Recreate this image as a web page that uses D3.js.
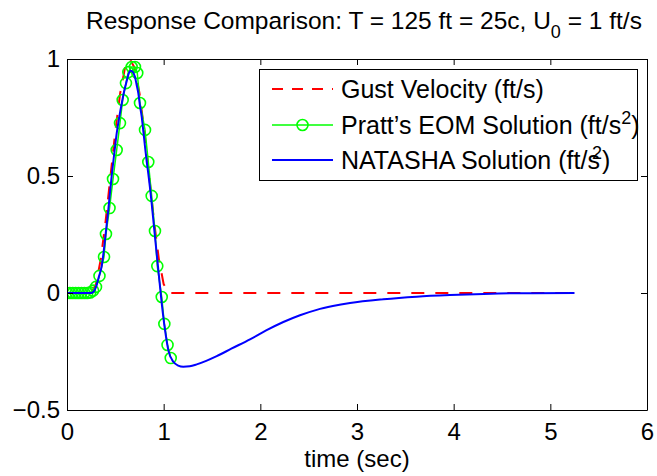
<!DOCTYPE html>
<html>
<head>
<meta charset="utf-8">
<script src="https://cdn.jsdelivr.net/npm/d3@7"></script>
<style>
  html, body { margin: 0; padding: 0; background: #fff; }
  svg { display: block; }
  text { font-family: "Liberation Sans", Arial, Helvetica, sans-serif; }
</style>
</head>
<body>
<svg id="chart" width="657" height="476"></svg>
<script>
// ---- Data ----
const xTicks = [0, 1, 2, 3, 4, 5, 6];
const yTicks = [-0.5, 0, 0.5, 1];
const yTickLabels = ["\u22120.5", "0", "0.5", "1"];

// Gust velocity (red dashed)
const gustT = [0, 0.25, 0.30, 0.35, 0.40, 0.45, 0.50, 0.55, 0.60, 0.65, 0.70, 0.75, 0.80, 0.85, 0.90, 0.95, 1.00, 1.05, 5.25];
const gustV = [0, 0, 0.038, 0.146, 0.309, 0.5, 0.691, 0.854, 0.962, 1.0, 0.962, 0.854, 0.691, 0.5, 0.309, 0.146, 0.038, 0, 0];

// Pratt's EOM solution (green circles)
const prattT = [0, 0.03, 0.06, 0.09, 0.12, 0.15, 0.18, 0.21, 0.24, 0.27, 0.300, 0.336, 0.383, 0.403, 0.440, 0.476, 0.514, 0.548, 0.576, 0.610, 0.634, 0.669, 0.703, 0.727, 0.755, 0.807, 0.841, 0.876, 0.910, 0.934, 0.980, 1.007, 1.040, 1.073];
const prattV = [0, 0, 0, 0, 0, 0, 0, 0, 0.002, 0.01, 0.026, 0.073, 0.154, 0.252, 0.363, 0.487, 0.611, 0.726, 0.825, 0.897, 0.944, 0.966, 0.966, 0.94, 0.812, 0.697, 0.56, 0.415, 0.265, 0.115, -0.017, -0.132, -0.222, -0.278];

// NATASHA solution (blue)
const natT = [0, 0.25, 0.28, 0.307, 0.33, 0.359, 0.393, 0.427, 0.462, 0.49, 0.514, 0.54, 0.566, 0.59, 0.617, 0.64, 0.659, 0.68, 0.703, 0.72, 0.738, 0.755, 0.773, 0.79, 0.807, 0.825, 0.841, 0.876, 0.91, 0.945, 0.98, 1.014, 1.048, 1.1, 1.15, 1.203, 1.27, 1.342, 1.44, 1.549, 1.7, 1.893, 2.06, 2.238, 2.41, 2.583, 2.75, 2.928, 3.272, 3.617, 3.962, 4.31, 4.65, 5.25];
const natV = [0, 0, 0.008, 0.034, 0.07, 0.115, 0.226, 0.355, 0.50, 0.6, 0.682, 0.75, 0.81, 0.86, 0.905, 0.94, 0.95, 0.945, 0.924, 0.89, 0.853, 0.80, 0.753, 0.69, 0.625, 0.56, 0.51, 0.383, 0.241, 0.098, -0.044, -0.158, -0.244, -0.294, -0.31, -0.315, -0.313, -0.305, -0.29, -0.27, -0.238, -0.198, -0.16, -0.124, -0.095, -0.072, -0.056, -0.043, -0.027, -0.016, -0.009, -0.004, -0.001, 0];

const legendLabels = ["Gust Velocity (ft/s)", "Pratt\u2019s EOM Solution (ft/s", "NATASHA Solution (ft/s"];

// ---- Layout ----
const svg = d3.select("#chart");
const pLeft = 67, pRight = 647, pTop = 59, pBottom = 410;
const FS = 24;

const x = d3.scaleLinear().domain([0, 6]).range([pLeft, pRight]);
const y = d3.scaleLinear().domain([-0.5, 1]).range([pBottom, pTop]);

const zip = (a, b) => a.map((t, i) => [t, b[i]]);
const gust = zip(gustT, gustV);
const pratt = zip(prattT, prattV);
const nat = zip(natT, natV);

svg.append("rect").attr("x", 0).attr("y", 0).attr("width", 657).attr("height", 476).attr("fill", "#fff");

svg.append("defs").append("clipPath").attr("id", "clip")
  .append("rect").attr("x", pLeft).attr("y", pTop).attr("width", pRight - pLeft).attr("height", pBottom - pTop);

const plot = svg.append("g").attr("clip-path", "url(#clip)");

plot.append("path")
  .attr("d", d3.line().x(d => x(d[0])).y(d => y(d[1]))(gust))
  .attr("fill", "none").attr("stroke", "#ff0000").attr("stroke-width", 2)
  .attr("stroke-dasharray", "13,11");

plot.append("path")
  .attr("d", d3.line().x(d => x(d[0])).y(d => y(d[1]))(pratt))
  .attr("fill", "none").attr("stroke", "#00ff00").attr("stroke-width", 1.5);

plot.selectAll("circle.pt").data(pratt).enter().append("circle")
  .attr("class", "pt")
  .attr("cx", d => x(d[0])).attr("cy", d => y(d[1])).attr("r", 5.5)
  .attr("fill", "none").attr("stroke", "#00ff00").attr("stroke-width", 1.6);

plot.append("path")
  .attr("d", d3.line().x(d => x(d[0])).y(d => y(d[1])).curve(d3.curveMonotoneX)(nat))
  .attr("fill", "none").attr("stroke", "#0000ff").attr("stroke-width", 2);

// ---- Axes ----
function styleAxis(g) {
  g.selectAll("path.domain").attr("stroke", "#000").attr("stroke-width", 1);
  g.selectAll(".tick line").attr("stroke", "#000").attr("stroke-width", 1);
  g.selectAll("text").attr("font-size", FS).attr("fill", "#000")
    .attr("font-family", "'Liberation Sans', Arial, Helvetica, sans-serif");
}

const xAxisB = svg.append("g").attr("transform", `translate(0,${pBottom})`)
  .call(d3.axisBottom(x).tickValues(xTicks).tickFormat(d3.format("d")).tickSize(-6).tickSizeOuter(0).tickPadding(13));
styleAxis(xAxisB);

const xAxisT = svg.append("g").attr("transform", `translate(0,${pTop})`)
  .call(d3.axisTop(x).tickValues(xTicks).tickFormat("").tickSize(-6).tickSizeOuter(0));
styleAxis(xAxisT);

const yAxisL = svg.append("g").attr("transform", `translate(${pLeft},0)`)
  .call(d3.axisLeft(y).tickValues(yTicks).tickFormat((d, i) => yTickLabels[i]).tickSize(-6).tickSizeOuter(0).tickPadding(7));
styleAxis(yAxisL);

const yAxisR = svg.append("g").attr("transform", `translate(${pRight},0)`)
  .call(d3.axisRight(y).tickValues(yTicks).tickFormat("").tickSize(-6).tickSizeOuter(0));
styleAxis(yAxisR);

svg.append("text").attr("x", (pLeft + pRight) / 2).attr("y", 467)
  .attr("text-anchor", "middle").attr("font-size", FS).text("time (sec)");

const title = svg.append("text").attr("x", 86).attr("y", 29).attr("font-size", 24.5);
title.append("tspan").text("Response Comparison: T = 125 ft = 25c, U");
title.append("tspan").attr("font-size", 18).attr("dy", 9).text("0");
title.append("tspan").attr("dy", -9).text(" = 1 ft/s");

// ---- Legend ----
const LFS = 25;
const lg = svg.append("g");
lg.append("rect").attr("x", 259.5).attr("y", 69.5).attr("width", 378).attr("height", 111)
  .attr("fill", "#fff").attr("stroke", "#000").attr("stroke-width", 1);

const rowsY = [89, 125, 160];
const lx0 = 272, lx1 = 333, tx = 341;

lg.append("line").attr("x1", lx0).attr("x2", lx1).attr("y1", rowsY[0]).attr("y2", rowsY[0])
  .attr("stroke", "#ff0000").attr("stroke-width", 2).attr("stroke-dasharray", "11,9");
lg.append("line").attr("x1", lx0).attr("x2", lx1).attr("y1", rowsY[1]).attr("y2", rowsY[1])
  .attr("stroke", "#00ff00").attr("stroke-width", 1.5);
lg.append("circle").attr("cx", (lx0 + lx1) / 2).attr("cy", rowsY[1]).attr("r", 5.5)
  .attr("fill", "none").attr("stroke", "#00ff00").attr("stroke-width", 1.6);
lg.append("line").attr("x1", lx0).attr("x2", lx1).attr("y1", rowsY[2]).attr("y2", rowsY[2])
  .attr("stroke", "#0000ff").attr("stroke-width", 2);

lg.append("text").attr("x", tx).attr("y", rowsY[0] + 9).attr("font-size", LFS).text(legendLabels[0]);

const t2 = lg.append("text").attr("x", tx).attr("y", rowsY[1] + 9).attr("font-size", LFS);
t2.append("tspan").text(legendLabels[1]);
t2.append("tspan").attr("font-size", 18).attr("dy", -10).text("2");
t2.append("tspan").attr("dy", 10).text(")");

const t3 = lg.append("text").attr("x", tx).attr("y", rowsY[2] + 9).attr("font-size", LFS);
t3.append("tspan").text(legendLabels[2]);
t3.append("tspan").attr("font-size", 18).attr("dx", -8).attr("dy", -10).text("2");
t3.append("tspan").attr("dy", 10).text(")");
</script>
</body>
</html>
